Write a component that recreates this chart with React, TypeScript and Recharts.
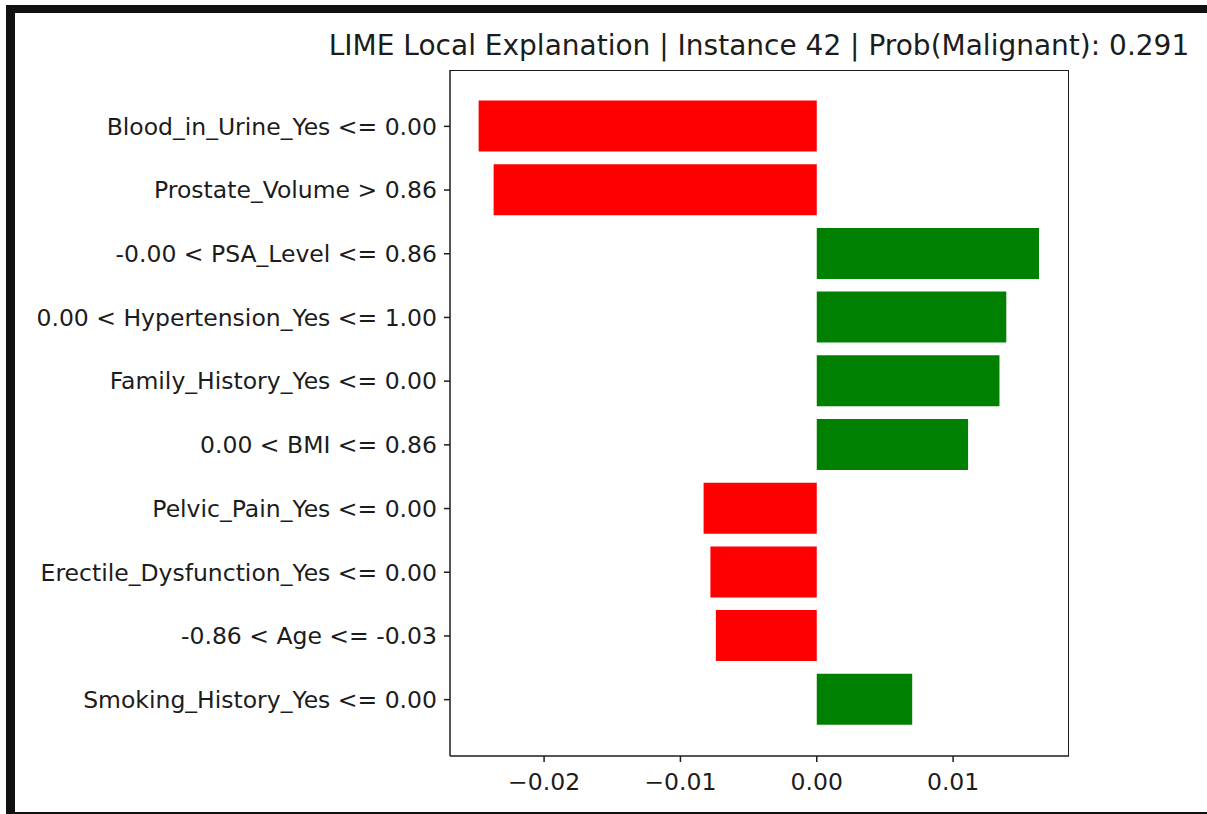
import { Bar, BarChart, Cell, XAxis, YAxis } from "recharts";

const features = [
  "Blood_in_Urine_Yes <= 0.00",
  "Prostate_Volume > 0.86",
  "-0.00 < PSA_Level <= 0.86",
  "0.00 < Hypertension_Yes <= 1.00",
  "Family_History_Yes <= 0.00",
  "0.00 < BMI <= 0.86",
  "Pelvic_Pain_Yes <= 0.00",
  "Erectile_Dysfunction_Yes <= 0.00",
  "-0.86 < Age <= -0.03",
  "Smoking_History_Yes <= 0.00",
];
const weights = [
  -0.0248, -0.0237, 0.0163, 0.0139, 0.0134, 0.0111, -0.0083, -0.0078, -0.0074, 0.0070,
];
const xTicks = [-0.02, -0.01, 0, 0.01];
const xDomain = [-0.0269, 0.0185];

const data = features.map((label, i) => ({ label, weight: weights[i] }));

const FONT = "'DejaVu Sans', sans-serif";
const INK = "#1c1c1c";

// matplotlib style minus sign
const fmt = (v: number) => {
  const s = Math.abs(v).toFixed(2);
  return v < 0 ? `\u2212${s}` : s;
};

export default function App() {
  return (
    <div style={{ position: "relative", width: 1207, height: 814, background: "#fff", overflow: "hidden" }}>
      <style>{`html,body{margin:0;padding:0;overflow:hidden}`}</style>
      {/* dark frame around the screenshot */}
      <div
        style={{
          position: "absolute",
          left: 6,
          top: 5,
          width: 1201,
          height: 809,
          boxSizing: "border-box",
          borderTop: "8px solid #111",
          borderLeft: "9px solid #111",
          borderBottom: "2px solid #111",
        }}
      />
      <div
        style={{
          position: "absolute",
          left: 259,
          width: 1000,
          top: 29,
          textAlign: "center",
          fontFamily: FONT,
          fontSize: 28,
          color: INK,
          whiteSpace: "nowrap",
        }}
      >
        LIME Local Explanation | Instance 42 | Prob(Malignant): 0.291
      </div>
      <div style={{ position: "absolute", left: 0, top: 0 }}>
        <BarChart
          layout="vertical"
          width={1207}
          height={814}
          data={data}
          margin={{ top: 70, right: 138, bottom: 18, left: 20 }}
        >
          <XAxis
            type="number"
            domain={xDomain}
            ticks={xTicks}
            allowDataOverflow
            tickFormatter={fmt}
            height={40}
            tickSize={6}
            tickMargin={11}
            axisLine={{ stroke: INK, strokeWidth: 1.5 }}
            tickLine={{ stroke: INK, strokeWidth: 1.5 }}
            tick={{ fill: INK, fontSize: 23.5, fontFamily: FONT }}
          />
          <YAxis
            type="category"
            dataKey="label"
            width={430}
            padding={{ top: 24.5, bottom: 24.5 }}
            tickSize={6}
            tickMargin={7}
            interval={0}
            axisLine={{ stroke: INK, strokeWidth: 1.5 }}
            tickLine={{ stroke: INK, strokeWidth: 1.5 }}
            tick={{ fill: INK, fontSize: 23.5, fontFamily: FONT }}
          />
          <Bar dataKey="weight" barSize={51} isAnimationActive={false}>
            {data.map((d) => (
              <Cell key={d.label} fill={d.weight > 0 ? "#008000" : "#ff0000"} />
            ))}
          </Bar>
        </BarChart>
      </div>
      {/* top and right spines of the axes box */}
      <div
        style={{
          position: "absolute",
          left: 450,
          top: 70,
          width: 619,
          height: 686,
          boxSizing: "border-box",
          borderTop: `1.5px solid ${INK}`,
          borderRight: `1.5px solid ${INK}`,
          pointerEvents: "none",
        }}
      />
    </div>
  );
}
